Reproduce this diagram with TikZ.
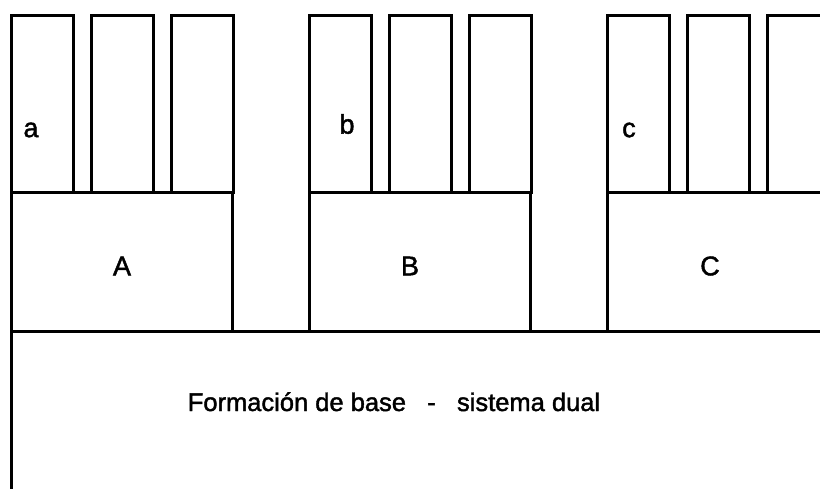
\documentclass[tikz,border=0pt]{standalone}
\usepackage{fontspec}
\setmainfont{Liberation Sans}
\newfontfamily\heavysans{Liberation Sans}[UprightFeatures={FakeBold=1.6}]

\begin{document}
\begin{tikzpicture}[x=1pt,y=1pt,line width=3pt,
  feld/.style={draw, rectangle, inner sep=0pt, outer sep=0pt, anchor=south west},
  tag/.style={font=\heavysans\fontsize{27}{32}\selectfont, inner sep=0pt},
  basetag/.style={font=\heavysans\fontsize{25.5}{30}\selectfont, inner sep=0pt}]
\useasboundingbox (0,0) rectangle (820,488);
\clip (0,0) rectangle (820,488);

% base block over the full width
\node[feld, anchor=north west, minimum width=860pt, minimum height=200pt] (base) at (11,156) {};
\node[basetag, anchor=base] (basetxt) at (394,77) {Formación de base \ \ - \ \ sistema dual};

% three columns, each with three fields on top
\foreach \lo/\up/\lx/\ly/\ux [count=\i from 0] in {a/A/31/358/122, b/B/347/364/410, c/C/629/358/710} {
  \node[feld, minimum width=221pt, minimum height=139pt] (\up) at (11+298*\i,156) {};
  \node[tag] (tag\up) at (\ux,222) {\up};
  \foreach \k in {0,1,2}
    \node[feld, minimum width=62pt, minimum height=177pt] (\lo\k) at (11+298*\i+80*\k,295) {};
  \node[tag] (tag\lo) at (\lx,\ly) {\lo};
}
\end{tikzpicture}
\end{document}
